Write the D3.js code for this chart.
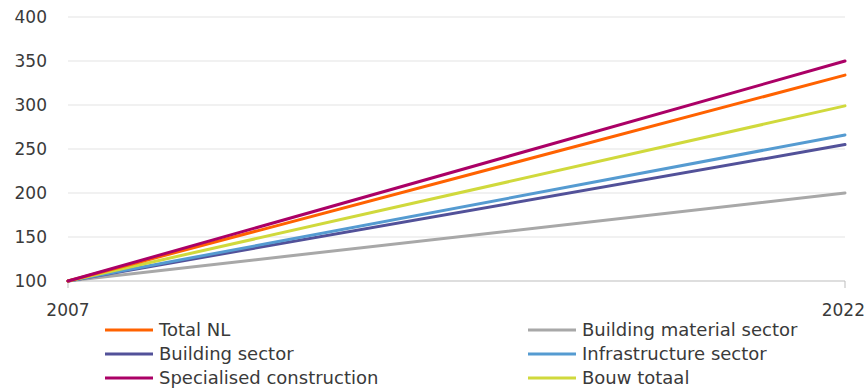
<!DOCTYPE html>
<html>
<head>
<meta charset="utf-8">
<script src="https://cdn.jsdelivr.net/npm/d3@7"></script>
<style>
  body { margin: 0; background: #fff; }
  svg { display: block; font-family: "DejaVu Sans", "Noto Sans", sans-serif; }
</style>
</head>
<body>
<svg id="chart" width="868" height="391"></svg>
<script>
// Index, 2007 = 100
const years = [2007, 2022];
const seriesNames = [
  "Total NL", "Building material sector",
  "Building sector", "Infrastructure sector",
  "Specialised construction", "Bouw totaal"
];
const totalNL = [100, 334];
const buildingMaterial = [100, 200];
const buildingSector = [100, 255];
const infrastructure = [100, 266];
const specialised = [100, 350];
const bouwTotaal = [100, 299];
const yTicks = [100, 150, 200, 250, 300, 350, 400];

const colors = {
  "Total NL": "#FF6200",
  "Building material sector": "#A8A8A8",
  "Building sector": "#525199",
  "Infrastructure sector": "#559BD1",
  "Specialised construction": "#AB0066",
  "Bouw totaal": "#D0D93C"
};
const valuesByName = {
  "Total NL": totalNL,
  "Building material sector": buildingMaterial,
  "Building sector": buildingSector,
  "Infrastructure sector": infrastructure,
  "Specialised construction": specialised,
  "Bouw totaal": bouwTotaal
};

const svg = d3.select("#chart");
const x = d3.scaleLinear().domain([2007, 2022]).range([68, 845]);
const y = d3.scaleLinear().domain([100, 400]).range([281, 17]);

// Gridlines
svg.append("g").selectAll("line").data(yTicks.filter(t => t > 100)).join("line")
  .attr("x1", 68).attr("x2", 845)
  .attr("y1", d => y(d)).attr("y2", d => y(d))
  .attr("stroke", "#e3e3e3").attr("stroke-width", 1);

// Y tick labels
svg.append("g").selectAll("text").data(yTicks).join("text")
  .attr("x", 47).attr("y", d => y(d)).attr("dy", "0.36em")
  .attr("text-anchor", "end").attr("font-size", 17).attr("fill", "#3a3a3a")
  .text(d => d);

// X axis baseline and ticks
const xAxis = svg.append("g");
xAxis.append("line").attr("x1", 68).attr("x2", 845)
  .attr("y1", y(100)).attr("y2", y(100)).attr("stroke", "#bdbdbd");
xAxis.selectAll("line.tick").data(years).join("line").attr("class", "tick")
  .attr("x1", d => x(d)).attr("x2", d => x(d))
  .attr("y1", y(100)).attr("y2", y(100) + 7).attr("stroke", "#bdbdbd");
xAxis.selectAll("text").data(years).join("text")
  .attr("x", d => d === 2022 ? 865 : x(d)).attr("y", 316)
  .attr("text-anchor", d => d === 2022 ? "end" : "middle")
  .attr("font-size", 17).attr("fill", "#3a3a3a")
  .text(d => d);

// Lines (draw in an order so the top ones overlap at the origin)
const drawOrder = ["Building material sector", "Building sector", "Infrastructure sector",
  "Bouw totaal", "Total NL", "Specialised construction"];
const line = d3.line().x((d, i) => x(years[i])).y(d => y(d));
svg.append("g").selectAll("path").data(drawOrder).join("path")
  .attr("d", n => line(valuesByName[n]))
  .attr("fill", "none").attr("stroke", n => colors[n])
  .attr("stroke-width", 3).attr("stroke-linecap", "round");

// Legend, two columns
const legend = svg.append("g");
const colX = [105, 528];
const rowY = [330, 354, 378];
seriesNames.forEach((n, i) => {
  const cx = colX[i % 2], cy = rowY[Math.floor(i / 2)];
  legend.append("line").attr("x1", cx).attr("x2", cx + 48)
    .attr("y1", cy).attr("y2", cy).attr("stroke", colors[n]).attr("stroke-width", 3);
  legend.append("text").attr("x", cx + 54).attr("y", cy).attr("dy", "0.36em")
    .attr("font-size", 18).attr("fill", "#3a3a3a").text(n);
});
</script>
</body>
</html>
